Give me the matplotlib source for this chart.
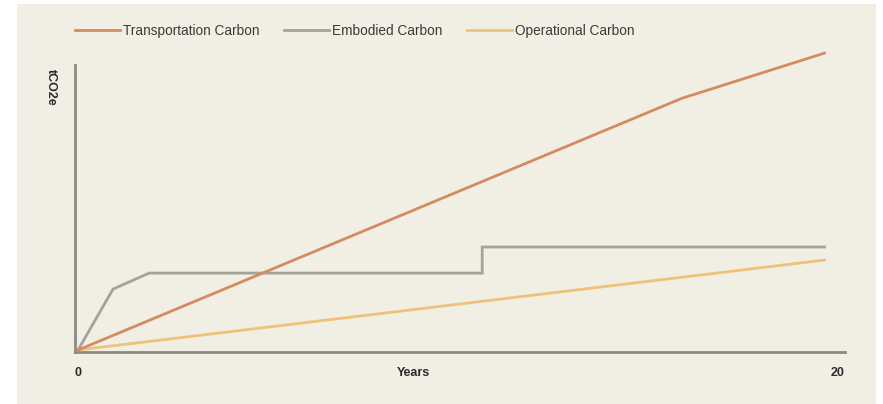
import matplotlib
matplotlib.use("Agg")
import matplotlib.pyplot as plt
from matplotlib.patches import Rectangle

plt.rcParams['font.family'] = ['Liberation Sans', 'DejaVu Sans']

# Cumulative carbon (tCO2e, relative units) against years
transport_years = [0, 15.9, 19.65]
transport_vals = [0, 84.8, 100.0]

embodied_years = [0, 0.92, 1.87, 10.64, 10.64, 19.65]
embodied_vals = [0, 20.5, 25.9, 25.9, 34.7, 34.7]

operational_years = [0, 19.65]
operational_vals = [0, 30.3]

series_names = ["Transportation Carbon", "Embodied Carbon", "Operational Carbon"]
x_ticks = [0, 20]
x_tick_labels = ["0", "20"]

BG = "#f1eee4"
AXIS = "#8a8b82"
C_TRANSPORT = "#d68a60"
C_EMBODIED = "#a2a49a"
C_OPERATIONAL = "#efc27c"
TEXT = "#2b2b2b"

W, H = 883, 404
fig = plt.figure(figsize=(W / 100, H / 100), dpi=100, facecolor="white")

# beige card behind the chart
card = Rectangle((17 / W, 0), (876 - 17) / W, (404 - 4) / H,
                 transform=fig.transFigure, facecolor=BG,
                 edgecolor="none", zorder=-10)
fig.add_artist(card)

ax = fig.add_axes([75 / W, (H - 352) / H, (845 - 75) / W, (352 - 65) / H])
ax.set_facecolor("none")
ax.set_zorder(1)

lw = 2.0
ax.plot(transport_years, transport_vals, color=C_TRANSPORT, lw=lw,
        label=series_names[0], clip_on=False, solid_joinstyle="miter", zorder=3)
ax.plot(embodied_years, embodied_vals, color=C_EMBODIED, lw=lw,
        label=series_names[1], clip_on=False, solid_joinstyle="miter", zorder=2)
ax.plot(operational_years, operational_vals, color=C_OPERATIONAL, lw=lw,
        label=series_names[2], clip_on=False, zorder=2)

ax.set_xlim(-0.08, 20.19)
ax.set_ylim(-0.67, 96.0)

for side in ("top", "right"):
    ax.spines[side].set_visible(False)
for side in ("left", "bottom"):
    ax.spines[side].set_color(AXIS)
    ax.spines[side].set_linewidth(2.0)

ax.set_yticks([])
ax.set_xticks(x_ticks)
ax.set_xticklabels(x_tick_labels, fontsize=9, fontweight="bold", color=TEXT)
ax.tick_params(axis="x", length=0, pad=11)

ax.set_xlabel("Years", fontsize=9, fontweight="bold", color=TEXT)
ax.xaxis.set_label_coords((413 - 75) / 770, -(373 - 352) / 287, transform=ax.transAxes)
ax.xaxis.label.set_verticalalignment("center")

fig.text(51 / W, 1 - 87 / H, "tCO2e", rotation=270, fontsize=9,
         fontweight="bold", color=TEXT, ha="center", va="center")

leg = ax.legend(loc="center left", bbox_to_anchor=(75 / W, 1 - 31 / H),
                bbox_transform=fig.transFigure, ncol=3, frameon=False,
                fontsize=9.8, handlelength=3.3, handletextpad=0.22,
                columnspacing=1.8, borderaxespad=0, borderpad=0)
for t in leg.get_texts():
    t.set_color("#3a3a3a")

fig.savefig("out.png", dpi=100, facecolor="white")
